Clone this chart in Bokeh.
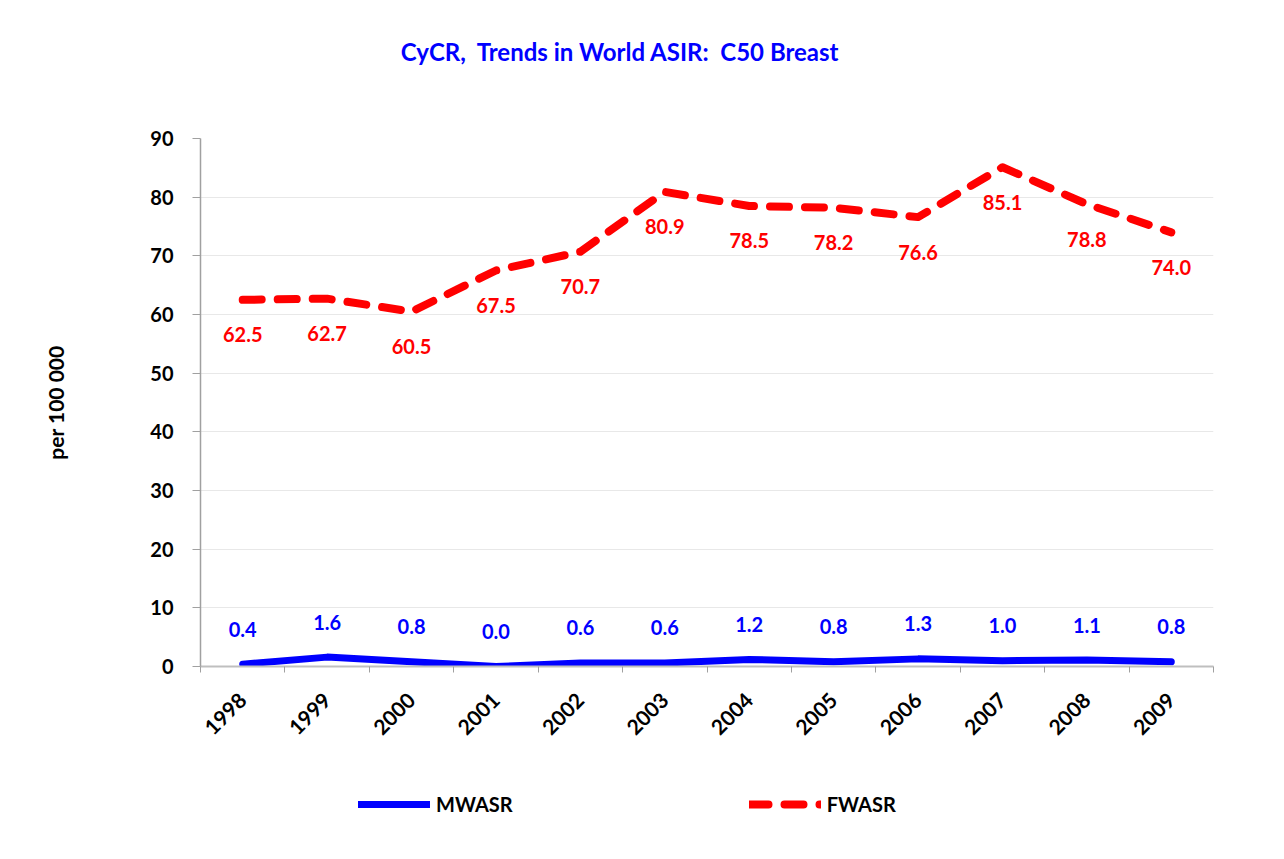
import math
from bokeh.plotting import figure
from bokeh.layouts import column
from bokeh.models import Range1d, FixedTicker, Legend, LegendItem
from bokeh.core.properties import value
from bokeh.embed import file_html
from bokeh.resources import INLINE

years = [1998, 1999, 2000, 2001, 2002, 2003, 2004, 2005, 2006, 2007, 2008, 2009]
mwasr = [0.4, 1.6, 0.8, 0.0, 0.6, 0.6, 1.2, 0.8, 1.3, 1.0, 1.1, 0.8]
fwasr = [62.5, 62.7, 60.5, 67.5, 70.7, 80.9, 78.5, 78.2, 76.6, 85.1, 78.8, 74.0]
y_ticks = [0, 10, 20, 30, 40, 50, 60, 70, 80, 90]
series_names = ["MWASR", "FWASR"]
title_text = "CyCR,\u00a0 Trends in World ASIR:\u00a0 C50 Breast"
y_label = "per 100 000"

FONT = "Lato"
BLUE = "#0000FF"
RED = "#FF0000"
LEFT, RIGHT, FW = 200, 63, 1013


def blank(height):
    # strip with the same horizontal borders as the chart; x data == page pixels
    f = figure(frame_width=FW, frame_height=height, output_backend="svg",
               toolbar_location=None,
               x_range=Range1d(LEFT, LEFT + FW), y_range=Range1d(height, 0),
               min_border_left=LEFT, min_border_right=RIGHT,
               min_border_top=0, min_border_bottom=0)
    f.axis.visible = False
    f.grid.visible = False
    f.outline_line_color = None
    f.border_fill_color = "white"
    return f


# ---- title strip ----
t = blank(100)
t.text(x=[620], y=[51], text=[title_text], text_align="center",
       text_baseline="middle", text_color=BLUE, text_font=value(FONT),
       text_font_style="bold", text_font_size="24px")

# ---- main chart ----
p = figure(frame_width=FW, frame_height=528, output_backend="svg",
           toolbar_location=None,
           x_range=Range1d(years[0] - 0.5, years[-1] + 0.5),
           y_range=Range1d(0, 90),
           min_border_left=LEFT, min_border_right=RIGHT,
           min_border_top=38, min_border_bottom=85)
p.outline_line_color = None
p.background_fill_color = "white"
p.border_fill_color = "white"

p.xaxis.ticker = FixedTicker(ticks=years,
                             minor_ticks=[y - 0.5 for y in years] + [years[-1] + 0.5])
p.xaxis.major_tick_line_color = None
p.xaxis.major_tick_out = 6
p.xaxis.minor_tick_line_color = "#A0A0A0"
p.xaxis.minor_tick_in = 0
p.xaxis.minor_tick_out = 6
p.xaxis.axis_line_color = "#BFBFBF"
p.xaxis.axis_line_width = 2
p.xaxis.major_label_orientation = math.pi / 4
p.xaxis.major_label_standoff = 24
p.xaxis.major_label_text_font = FONT
p.xaxis.major_label_text_font_style = "bold"
p.xaxis.major_label_text_font_size = "21px"
p.xaxis.major_label_text_color = "black"
p.xgrid.grid_line_color = None

p.yaxis.ticker = FixedTicker(ticks=y_ticks, minor_ticks=[])
p.yaxis.axis_line_color = "#A0A0A0"
p.yaxis.axis_line_width = 1.5
p.yaxis.major_tick_line_color = "#A0A0A0"
p.yaxis.major_tick_in = 0
p.yaxis.major_tick_out = 8
p.yaxis.minor_tick_line_color = None
p.yaxis.major_label_standoff = 19
p.yaxis.major_label_text_font = FONT
p.yaxis.major_label_text_font_style = "bold"
p.yaxis.major_label_text_font_size = "20px"
p.yaxis.major_label_text_color = "black"
p.yaxis.axis_label = y_label
p.yaxis.axis_label_standoff = 79
p.yaxis.axis_label_text_font = FONT
p.yaxis.axis_label_text_font_style = "bold"
p.yaxis.axis_label_text_font_size = "21px"
p.yaxis.axis_label_text_color = "black"
p.ygrid.grid_line_color = "#E8E8E8"
p.ygrid.grid_line_width = 1

m_style = dict(line_color=BLUE, line_width=7, line_cap="round", line_join="round")
f_style = dict(line_color=RED, line_width=8, line_cap="round", line_join="round",
               line_dash="19 16")
p.line(years, mwasr, **m_style)
p.line(years, fwasr, **f_style)

p.text(years, mwasr, text=[f"{v:.1f}" for v in mwasr], y_offset=-35,
       text_align="center", text_baseline="middle", text_color=BLUE,
       text_font=value(FONT), text_font_style="bold", text_font_size="20px")
p.text(years, fwasr, text=[f"{v:.1f}" for v in fwasr], y_offset=35,
       text_align="center", text_baseline="middle", text_color=RED,
       text_font=value(FONT), text_font_style="bold", text_font_size="20px")

# ---- legend strip (series lines lie outside this strip's view; only keys show) ----
lgf = blank(100)
lm = lgf.line(years, mwasr, **m_style)
lf = lgf.line(years, fwasr, **f_style)
lg = Legend(items=[LegendItem(label=series_names[0], renderers=[lm]),
                   LegendItem(label=series_names[1], renderers=[lf])],
            location=(158, 35), orientation="horizontal",
            glyph_width=72, glyph_height=20, label_standoff=6, spacing=236,
            padding=0, margin=0, border_line_color=None, background_fill_alpha=0,
            label_text_font=FONT, label_text_font_style="bold",
            label_text_font_size="20px", label_text_color="black")
lgf.add_layout(lg, "center")

layout = column(t, p, lgf, spacing=0)
open("out.html", "w").write(file_html(layout, INLINE))
